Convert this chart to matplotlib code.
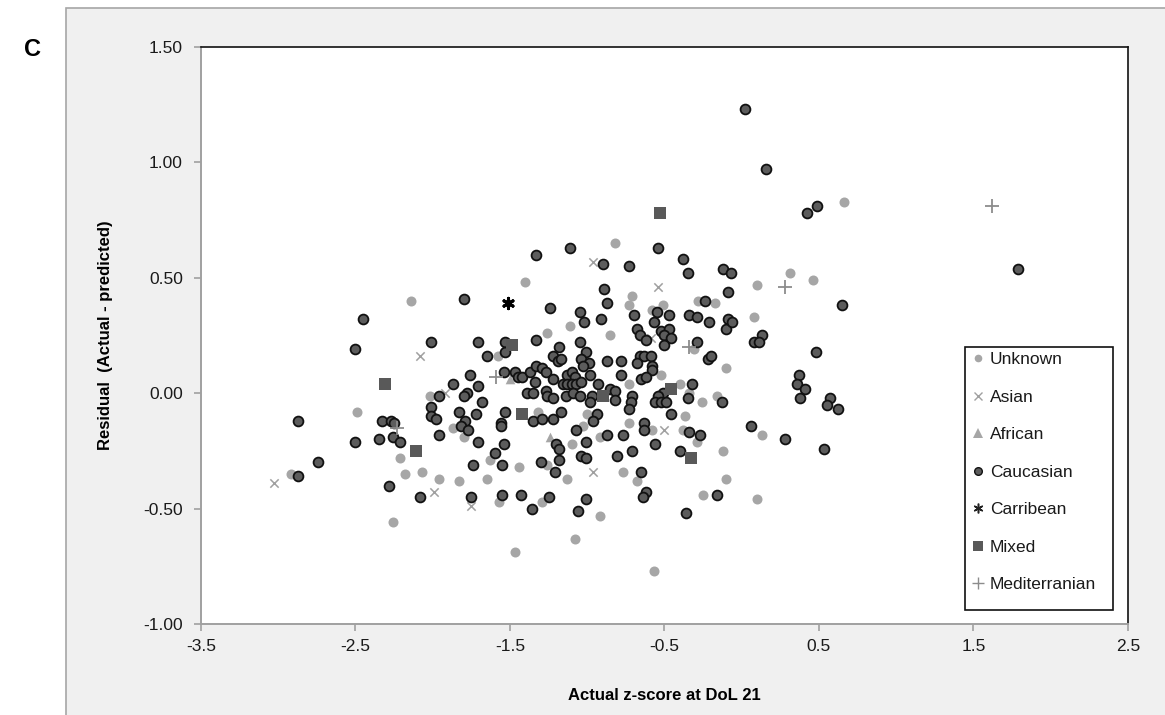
import matplotlib
matplotlib.use("Agg")
import matplotlib.pyplot as plt
from matplotlib.patches import Rectangle
from matplotlib.lines import Line2D

plt.rcParams['font.family'] = ['Liberation Sans', 'DejaVu Sans']

# ---- data: actual z-score (x) vs residual (y), grouped by ethnicity ----
unknown_x = [-2.92, -2.49, -2.21, -2.18, -2.26, -2.14, -1.40, -1.26, -1.11, -1.58, -2.02, -1.87,
             -1.80, -1.32, -1.63, -1.13, -1.26, -1.44, -2.07, -1.96, -1.83, -1.65, -1.57, -1.29,
             -1.47, -0.82, -0.71, -0.73, -0.51, -0.58, -0.28, -0.17, -0.85, -0.31, -0.52, -0.10,
             -0.73, -0.40, -0.34, -0.26, -0.16, -1.00, -1.03, -0.92, -0.73, -0.58, -0.37, -0.38,
             -0.29, -0.12, -1.10, -0.77, -0.68, -0.10, -0.92, -1.08, -0.25, -0.57, 0.31, 0.46,
             0.10, 0.08, 0.13, 0.10, 0.66]
unknown_y = [-0.35, -0.08, -0.28, -0.35, -0.56, 0.40, 0.48, 0.26, 0.29, 0.16, -0.01, -0.15,
             -0.19, -0.08, -0.29, -0.37, -0.31, -0.32, -0.34, -0.37, -0.38, -0.37, -0.47, -0.47,
             -0.69, 0.65, 0.42, 0.38, 0.38, 0.36, 0.40, 0.39, 0.25, 0.19, 0.08, 0.11,
             0.04, 0.04, 0.00, -0.04, -0.01, -0.09, -0.14, -0.19, -0.13, -0.16, -0.10, -0.16,
             -0.21, -0.25, -0.22, -0.34, -0.38, -0.37, -0.53, -0.63, -0.44, -0.77, 0.52, 0.49,
             0.47, 0.33, -0.18, -0.46, 0.83]

asian_x = [-3.03, -2.08, -1.92, -1.99, -1.75, -0.96, -0.54, -0.59, -0.50, -0.96]
asian_y = [-0.39, 0.16, 0.00, -0.43, -0.49, 0.57, 0.46, 0.24, -0.16, -0.34]

african_x = [-1.24, -1.50]
african_y = [-0.19, 0.06]

caucasian_x = [
    -2.87, -2.74, -2.87, -2.50, -2.33, -2.27, -2.25, -2.35, -2.26, -2.21, -2.28, -2.45, -2.50,
    -1.33, -1.11, -1.80, -1.24, -2.01, -1.71, -1.53, -1.33, -1.18, -1.65, -1.53, -1.22, -1.19,
    -1.17, -1.13, -1.54, -1.47, -1.45, -1.42, -1.37, -1.33, -1.29, -1.27, -1.34, -1.22, -1.16,
    -1.13, -1.76, -1.87, -1.71, -1.96, -1.78, -1.80, -1.39, -1.35, -1.27, -1.26, -1.22, -1.14,
    -2.01, -1.68,
    -2.01, -1.98, -1.83, -1.72, -1.53, -1.79, -1.82, -1.77, -1.56, -1.56, -1.35, -1.29, -1.22,
    -1.17, -1.96, -1.71, -1.60, -1.54, -1.20, -1.18, -1.18, -1.30, -1.21, -1.74, -1.55, -2.08,
    -1.75, -1.55, -1.43, -1.36, -1.25,
    -0.54, -0.90, -0.73, -0.38, -0.35, -0.12, -0.09, -0.89, -0.87, -0.24, -1.05, -1.02, -0.91,
    -0.70, -0.55, -0.57, -0.47, -0.34, -0.29, -0.21, -0.09, -0.10, -0.68, -0.52, -0.47, -0.50,
    -0.46, -0.66, -0.62, -0.50, -0.29, -1.05, -1.01, -1.04, -0.99, -1.03, -0.87, -0.78, -0.66,
    -0.63, -0.59, -0.68, -0.78, -0.58, -0.58, -0.65, -0.62, -0.22, -0.20, -1.10, -1.08, -1.10,
    -1.07, -1.04, -1.09, -1.05, -0.98, -0.93, -0.85, -0.82, -0.97, -0.82, -0.98, -0.71, -0.72,
    -0.32, -0.51, -0.54, -0.56, -0.52, -0.49, -0.35, -0.13,
    -0.94, -0.96, -1.07, -1.01, -0.87, -0.77, -0.73, -0.63, -0.63, -0.56, -0.46, -0.34, -0.27,
    -0.40, -0.71, -0.81, -1.04, -1.01, -0.65, -0.62, -0.64, -1.01, -1.06, -0.36, -0.16,
    -0.07, 0.65, -0.06, 0.13, 0.08, 0.11, 0.48, 0.37, 0.36, 0.41, 0.38, 0.57, 0.55, 0.62,
    0.06, 0.28, 0.53,
    0.02, 0.16, 0.42, 0.49, 1.79]
caucasian_y = [
    -0.36, -0.30, -0.12, -0.21, -0.12, -0.12, -0.13, -0.20, -0.19, -0.21, -0.40, 0.32, 0.19,
    0.60, 0.63, 0.41, 0.37, 0.22, 0.22, 0.22, 0.23, 0.20, 0.16, 0.18, 0.16, 0.14,
    0.15, 0.08, 0.09, 0.09, 0.07, 0.07, 0.09, 0.12, 0.11, 0.09, 0.05, 0.06, 0.04,
    0.04, 0.08, 0.04, 0.03, -0.01, 0.00, -0.01, 0.00, 0.00, 0.01, -0.01, -0.02, -0.01,
    -0.06, -0.04,
    -0.10, -0.11, -0.08, -0.09, -0.08, -0.12, -0.14, -0.16, -0.13, -0.14, -0.12, -0.11, -0.11,
    -0.08, -0.18, -0.21, -0.26, -0.22, -0.22, -0.24, -0.29, -0.30, -0.34, -0.31, -0.31, -0.45,
    -0.45, -0.44, -0.44, -0.50, -0.45,
    0.63, 0.56, 0.55, 0.58, 0.52, 0.54, 0.44, 0.45, 0.39, 0.40, 0.35, 0.31, 0.32,
    0.34, 0.35, 0.31, 0.34, 0.34, 0.33, 0.31, 0.32, 0.28, 0.28, 0.27, 0.28, 0.25,
    0.24, 0.25, 0.23, 0.21, 0.22, 0.22, 0.18, 0.15, 0.13, 0.12, 0.14, 0.14, 0.16,
    0.16, 0.16, 0.13, 0.08, 0.12, 0.10, 0.06, 0.07, 0.15, 0.16, 0.09, 0.07, 0.04,
    0.04, 0.05, 0.00, -0.01, 0.08, 0.04, 0.02, 0.01, -0.01, -0.03, -0.04, -0.01, -0.04,
    0.04, 0.00, -0.01, -0.04, -0.04, -0.04, -0.02, -0.04,
    -0.09, -0.12, -0.16, -0.21, -0.18, -0.18, -0.07, -0.13, -0.16, -0.22, -0.09, -0.17, -0.18,
    -0.25, -0.25, -0.27, -0.27, -0.28, -0.34, -0.43, -0.45, -0.46, -0.51, -0.52, -0.44,
    0.52, 0.38, 0.31, 0.25, 0.22, 0.22, 0.18, 0.08, 0.04, 0.02, -0.02, -0.02, -0.05, -0.07,
    -0.14, -0.20, -0.24,
    1.23, 0.97, 0.78, 0.81, 0.54]

carribean_x = [-1.51]
carribean_y = [0.39]

mixed_x = [-2.31, -2.11, -1.49, -1.42, -0.90, -0.46, -0.33, -0.53]
mixed_y = [0.04, -0.25, 0.21, -0.09, -0.01, 0.02, -0.28, 0.78]

mediterranean_x = [-2.23, -1.59, -0.34, 0.28, 1.62]
mediterranean_y = [-0.15, 0.07, 0.20, 0.46, 0.81]

x_ticks = [-3.5, -2.5, -1.5, -0.5, 0.5, 1.5, 2.5]
y_ticks = [-1.0, -0.5, 0.0, 0.5, 1.0, 1.5]

# ---- figure ----
W, H = 1165, 715
fig = plt.figure(figsize=(W / 100, H / 100), dpi=100)
fig.patch.set_facecolor('white')

# light grey chart panel behind the plot area
panel = Rectangle((66 / W, -0.05), 1.2, (H - 8) / H + 0.05, transform=fig.transFigure,
                  facecolor='#f0f0f0', edgecolor='#a6a6a6', linewidth=1.2, zorder=-10)
fig.add_artist(panel)

ax = fig.add_axes([201 / W, 1 - 624 / H, (1128 - 201) / W, (624 - 47) / H])
ax.set_zorder(5)
ax.set_facecolor('white')

ax.scatter(unknown_x, unknown_y, s=52, marker='o', color='#a6a6a6', linewidths=0,
           label='Unknown', zorder=2)
ax.scatter(asian_x, asian_y, s=36, marker='x', color='#a0a0a0', linewidths=1.1,
           label='Asian', zorder=3)
ax.scatter(african_x, african_y, s=48, marker='^', color='#a6a6a6', linewidths=0,
           label='African', zorder=3)
ax.scatter(caucasian_x, caucasian_y, s=50, marker='o', facecolor='#5c5c5c',
           edgecolor='#111111', linewidths=1.3, label='Caucasian', zorder=4)
ax.scatter(carribean_x, carribean_y, s=55, marker=(6, 2, 0), color='black',
           linewidths=2.2, label='Carribean', zorder=5)
ax.scatter(mixed_x, mixed_y, s=75, marker='s', color='#595959', linewidths=0,
           label='Mixed', zorder=5)
ax.scatter(mediterranean_x, mediterranean_y, s=95, marker='+', color='#8c8c8c',
           linewidths=1.3, label='Mediterranian', zorder=5)

ax.set_xlim(-3.5, 2.5)
ax.set_ylim(-1.0, 1.5)
ax.set_xticks(x_ticks)
ax.set_yticks(y_ticks)
ax.set_xticklabels([f'{v:.1f}' for v in x_ticks])
ax.set_yticklabels([f'{v:.2f}' for v in y_ticks])
ax.tick_params(axis='both', direction='out', length=5, width=1.2, color='#a0a0a0',
               labelsize=12.5, labelcolor='#1a1a1a')
ax.tick_params(axis='x', pad=6)
ax.tick_params(axis='y', pad=8)

for side in ('left', 'bottom'):
    ax.spines[side].set_color('#a0a0a0')
    ax.spines[side].set_linewidth(1.4)
for side in ('top', 'right'):
    ax.spines[side].set_color('#111111')
    ax.spines[side].set_linewidth(1.2)

ax.set_xlabel('Actual z-score at DoL 21', fontsize=12, fontweight='bold', labelpad=24)
ax.set_ylabel('Residual  (Actual - predicted)', fontsize=12, fontweight='bold', labelpad=22)

fig.text(24 / W, 1 - 50 / H, 'C', fontsize=17, fontweight='bold', ha='left', va='center')

# legend: entries without frame, plus a separate box around them
handles = [
    Line2D([], [], ls='none', marker='o', ms=5.5, color='#a6a6a6', mew=0),
    Line2D([], [], ls='none', marker='x', ms=5.5, color='#a0a0a0', mew=1.0),
    Line2D([], [], ls='none', marker='^', ms=6.5, color='#a6a6a6', mew=0),
    Line2D([], [], ls='none', marker='o', ms=5.5, mfc='#5c5c5c', mec='#111111', mew=1.0),
    Line2D([], [], ls='none', marker=(6, 2, 0), ms=7, color='#222222', mew=1.1),
    Line2D([], [], ls='none', marker='s', ms=6.5, color='#595959', mew=0),
    Line2D([], [], ls='none', marker='+', ms=9, color='#8c8c8c', mew=1.0),
]
labels = ['Unknown', 'Asian', 'African', 'Caucasian', 'Carribean', 'Mixed', 'Mediterranian']
leg = ax.legend(handles, labels, loc='upper left', bbox_to_anchor=(0.832, 0.4715),
                frameon=False, fontsize=12.5, labelspacing=1.29, handlelength=0.7,
                handletextpad=0.3, borderpad=0, borderaxespad=0, labelcolor='#1a1a1a')
legend_box = Rectangle((0.8242, 0.0243), 0.9838 - 0.8242, 0.4801 - 0.0243,
                       transform=ax.transAxes, facecolor='white', edgecolor='#111111',
                       linewidth=1.2, zorder=6)
ax.add_patch(legend_box)
leg.set_zorder(7)

fig.savefig('out.png', dpi=100, facecolor=fig.get_facecolor())
